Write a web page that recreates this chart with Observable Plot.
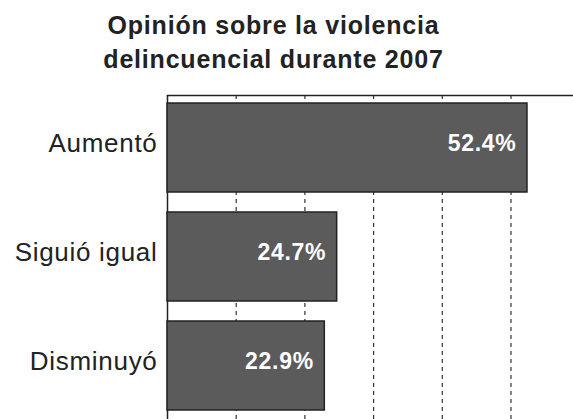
<!DOCTYPE html>
<html>
<head>
<meta charset="utf-8">
<script src="https://cdn.jsdelivr.net/npm/d3@7"></script>
<script src="https://cdn.jsdelivr.net/npm/@observablehq/plot@0.6"></script>
<style>
  html, body { margin: 0; padding: 0; background: #fff; overflow: hidden; }
  #title {
    width: 547px; height: 72px; padding-top: 8px;
    font-family: "Liberation Sans", Arial, sans-serif;
    font-weight: bold; font-size: 25px; line-height: 34px;
    letter-spacing: 0.8px; text-align: center; color: #222;
  }
  #chart svg text { letter-spacing: 0.7px; }
</style>
</head>
<body>
<div id="title">Opinión sobre la violencia<br>delincuencial durante 2007</div>
<div id="chart"></div>
<script>
const categories = ["Aumentó", "Siguió igual", "Disminuyó"];
const values = [52.4, 24.7, 22.9];
const gridTicks = [10, 20, 30, 40, 50];

const data = categories.map((c, i) => ({cat: c, value: values[i]}));

const chart = Plot.plot({
  width: 573,
  height: 339,
  marginTop: 15,
  marginBottom: 0,
  marginLeft: 167,
  marginRight: 0,
  style: {fontFamily: "Liberation Sans, Arial, sans-serif", color: "#222", background: "#fff"},
  x: {domain: [0, 59.1], axis: null},
  y: {domain: categories, paddingInner: 0.18, paddingOuter: 0.07, axis: null},
  marks: [
    Plot.ruleX(gridTicks, {stroke: "#333", strokeWidth: 1.2, strokeDasharray: "4,4"}),
    Plot.frame({anchor: "top", stroke: "#222", strokeWidth: 1.5}),
    Plot.ruleX([0], {stroke: "#222", strokeWidth: 1.5}),
    Plot.barX(data, {x: "value", y: "cat", fill: "#5b5b5b", stroke: "#222", strokeWidth: 1.5}),
    Plot.text(data, {x: "value", y: "cat", text: d => d.value.toFixed(1) + "%",
      textAnchor: "end", dx: -11, dy: -4, fill: "white", fontWeight: "bold", fontSize: 23}),
    Plot.axisY({tickSize: 0, tickPadding: 10, fontSize: 26, dy: -4, fill: "#222", label: null})
  ]
});
document.getElementById("chart").append(chart);
</script>
</body>
</html>
